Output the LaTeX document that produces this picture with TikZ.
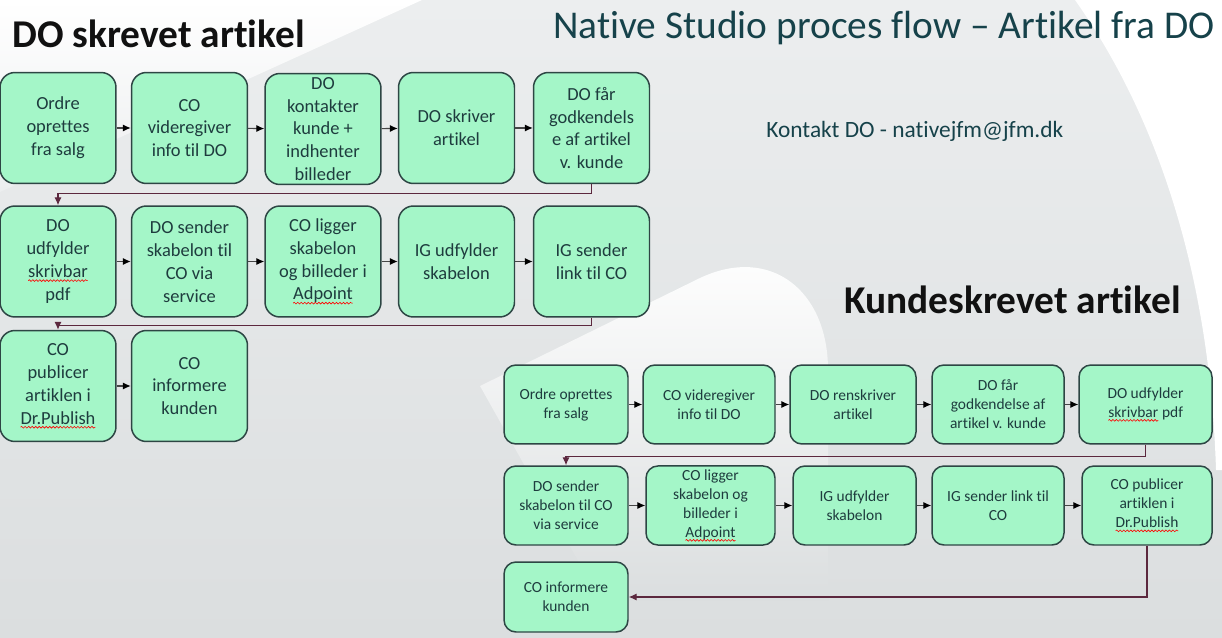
\documentclass[tikz,border=0pt]{standalone}
\usepackage{fontspec}
\setmainfont{Carlito}[Ligatures=NoCommon]
\usetikzlibrary{arrows.meta,decorations.pathmorphing}
\definecolor{bg}{RGB}{232,235,236}
\definecolor{bgtop}{RGB}{236,238,239}
\definecolor{bgbot}{RGB}{219,222,223}
\definecolor{lightbg}{RGB}{250,251,251}
\definecolor{boxfill}{RGB}{164,246,200}
\definecolor{boxline}{RGB}{45,70,68}
\definecolor{boxtxt}{RGB}{30,60,62}
\definecolor{titletxt}{RGB}{22,66,74}
\definecolor{headtxt}{RGB}{17,17,17}
\definecolor{wrapc}{RGB}{92,40,62}
\definecolor{arrc}{RGB}{70,70,70}
\newcommand\sq[1]{\tikz[baseline=(w.base)]{\node[inner sep=0pt,outer sep=0pt,draw=none,fill=none,sharp corners,minimum width=0pt,minimum height=0pt,text=boxtxt](w){#1};\draw[red,line width=0.35pt,sharp corners,decorate,decoration={snake,amplitude=0.5pt,segment length=2pt}] ([yshift=-1.8pt]w.base west)--([yshift=-1.8pt]w.base east);}}
\tikzset{
  lbox/.style={draw=boxline, fill=boxfill, line width=0.85pt, rounded corners=8.5pt,
    align=center, text=boxtxt, font=\fontsize{10.5}{13}\selectfont, inner sep=2pt,
    minimum height=2.22cm, minimum width=2.32cm},
  rbox/.style={draw=boxline, fill=boxfill, line width=0.85pt, rounded corners=6.8pt,
    align=center, text=boxtxt, font=\fontsize{8.8}{10.8}\selectfont, inner sep=2pt,
    minimum height=1.58cm},
  arr/.style={draw=arrc, line width=0.6pt, -{Latex[length=4.5pt,width=4pt,color=black]}},
  wrap/.style={draw=wrapc, line width=0.6pt, -{Latex[length=4.5pt,width=4pt]}},
}
\begin{document}
\begin{tikzpicture}[x=0.02cm,y=-0.02cm]
\useasboundingbox (0,0) rectangle (1222,638);
% background
\shade[top color=bgtop, bottom color=bgbot] (0,0) rectangle (1222,638);
\shade[top color=white, bottom color=bgtop] (0,0) -- (422,0) -- (0,192) -- cycle;
\fill[white] (1075,0) .. controls (1160,120) and (1210,280) .. (1216,470) -- (1222,470) -- (1222,0) -- cycle;
\shade[top color=white, bottom color=bgbot] (828,600) -- (828,370) .. controls (828,290) and (770,245) .. (700,278) -- (480,386) -- (600,600) -- cycle;
% titles
\node[anchor=base west, inner sep=0, text=headtxt, font=\fontsize{22.4}{26}\selectfont\bfseries] (h1) at (12,48) {DO skrevet artikel};
\node[anchor=base east, inner sep=0, text=titletxt, font=\fontsize{22.4}{27}\selectfont] (title) at (1215,39) {Native Studio proces flow – Artikel fra DO};
\node[anchor=base west, inner sep=0, text=titletxt, font=\fontsize{13.3}{16}\selectfont] (contact) at (766,138) {Kontakt DO - nativejfm@jfm.dk};
\node[anchor=base west, inner sep=0, text=headtxt, font=\fontsize{22.4}{26}\selectfont\bfseries] (h2) at (844,313) {Kundeskrevet artikel};
% left flow
\node[lbox] (L1) at (58,128) {Ordre\\oprettes\\fra salg};
\node[lbox] (L2) at (189.5,128) {CO\\videregiver\\info til DO};
\node[lbox] (L3) at (323,129) {DO\\kontakter\\kunde +\\indhenter\\billeder};
\node[lbox] (L4) at (456.5,128) {DO skriver\\artikel};
\node[lbox] (L5) at (591.5,128) {DO får\\godkendels\\e af artikel\\v. kunde};
\node[lbox] (L6) at (58,261.5) {DO\\udfylder\\\sq{skrivbar}\\pdf};
\node[lbox] (L7) at (189.5,261.5) {DO sender\\skabelon til\\CO via\\service};
\node[lbox] (L8) at (323,261.5) {CO ligger\\skabelon\\og billeder i\\\sq{Adpoint}};
\node[lbox] (L9) at (456.5,261.5) {IG udfylder\\skabelon};
\node[lbox] (L10) at (591.5,261.5) {IG sender\\link til CO};
\node[lbox] (L11) at (58,386) {CO\\publicer\\artiklen i\\\sq{Dr.Publish}};
\node[lbox] (L12) at (189.5,386) {CO\\informere\\kunden};
\draw[arr] (L1) -- (L2);
\draw[arr] (L2) -- (L3);
\draw[arr] (L3) -- (L4);
\draw[arr] (L4) -- (L5);
\draw[wrap] (L5.south) -- ++(0,9) -| (L6.north);
\draw[arr] (L6) -- (L7);
\draw[arr] (L7) -- (L8);
\draw[arr] (L8) -- (L9);
\draw[arr] (L9) -- (L10);
\draw[wrap] (L10.south) -- ++(0,8) -| (L11.north);
\draw[arr] (L11) -- (L12);
% right flow
\node[rbox, minimum width=2.48cm] (A1) at (566,404.5) {Ordre oprettes\\fra salg};
\node[rbox, minimum width=2.64cm] (A2) at (709,404.5) {CO videregiver\\info til DO};
\node[rbox, minimum width=2.52cm] (A3) at (853,404.5) {DO renskriver\\artikel};
\node[rbox, minimum width=2.64cm] (A4) at (998,404.5) {DO får\\godkendelse af\\artikel v. kunde};
\node[rbox, minimum width=2.66cm] (A5) at (1145.5,404.5) {DO udfylder\\\sq{skrivbar} pdf};
\node[rbox, minimum width=2.48cm] (B1) at (566,505.5) {DO sender\\skabelon til CO\\via service};
\node[rbox, minimum width=2.58cm] (B2) at (710.5,505.5) {CO ligger\\skabelon og\\billeder i\\\sq{Adpoint}};
\node[rbox, minimum width=2.46cm] (B3) at (854.5,505.5) {IG udfylder\\skabelon};
\node[rbox, minimum width=2.64cm] (B4) at (998,505.5) {IG sender link til\\CO};
\node[rbox, minimum width=2.60cm] (B5) at (1147,505.5) {CO publicer\\artiklen i\\\sq{Dr.Publish}};
\node[rbox, minimum width=2.48cm, minimum height=1.4cm] (C1) at (566,597) {CO informere\\kunden};
\draw[arr] (A1) -- (A2);
\draw[arr] (A2) -- (A3);
\draw[arr] (A3) -- (A4);
\draw[arr] (A4) -- (A5);
\draw[wrap] (A5.south) -- ++(0,12) -| (B1.north);
\draw[arr] (B1) -- (B2);
\draw[arr] (B2) -- (B3);
\draw[arr] (B3) -- (B4);
\draw[arr] (B4) -- (B5);
\draw[wrap] (B5.south) |- (C1.east);
\end{tikzpicture}
\end{document}
